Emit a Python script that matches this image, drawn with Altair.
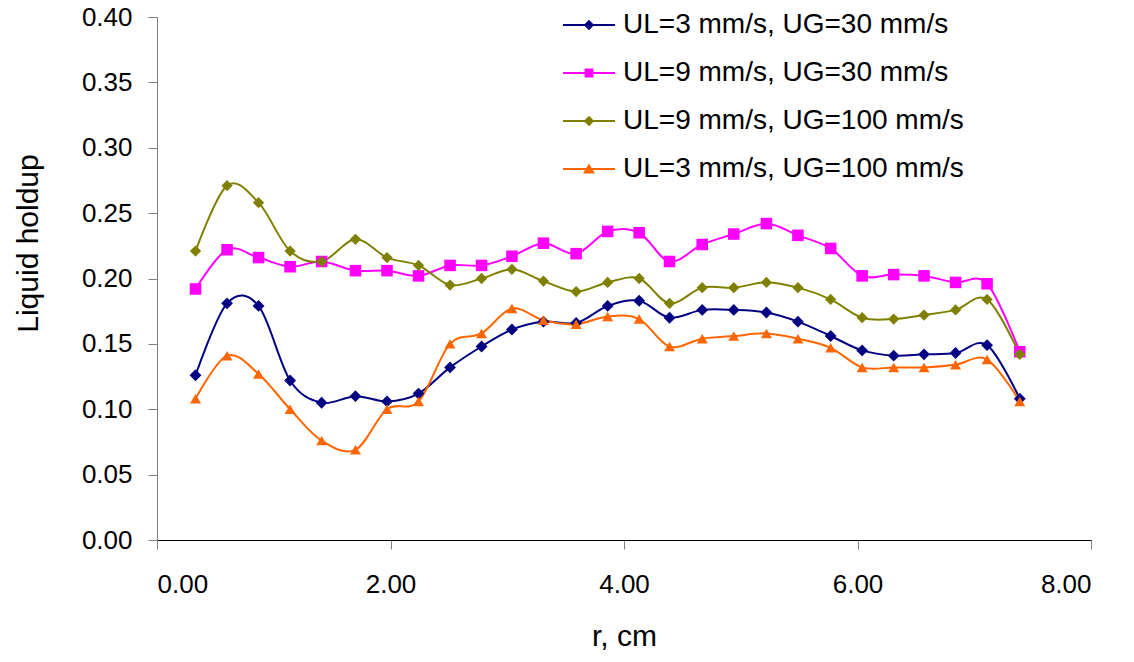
import altair as alt
import pandas as pd

r_cm = [0.33, 0.60, 0.87, 1.14, 1.41, 1.70, 1.97, 2.24, 2.51, 2.78, 3.04, 3.31, 3.59,
        3.86, 4.13, 4.39, 4.67, 4.94, 5.22, 5.49, 5.77, 6.04, 6.31, 6.57, 6.84, 7.11, 7.39]

ul3_ug30 = [0.126, 0.181, 0.179, 0.122, 0.105, 0.110, 0.106, 0.112, 0.132, 0.148, 0.161, 0.167, 0.166,
            0.179, 0.183, 0.170, 0.176, 0.176, 0.174, 0.167, 0.156, 0.145, 0.141, 0.142, 0.143, 0.149, 0.108]
ul9_ug30 = [0.192, 0.222, 0.216, 0.209, 0.213, 0.206, 0.206, 0.202, 0.210, 0.210, 0.217, 0.227, 0.219,
            0.236, 0.235, 0.213, 0.226, 0.234, 0.242, 0.233, 0.223, 0.202, 0.203, 0.202, 0.197, 0.196, 0.144]
ul9_ug100 = [0.221, 0.271, 0.258, 0.221, 0.213, 0.230, 0.216, 0.210, 0.195, 0.200, 0.207, 0.198, 0.190,
             0.197, 0.200, 0.181, 0.193, 0.193, 0.197, 0.193, 0.184, 0.170, 0.169, 0.172, 0.176, 0.184, 0.142]
ul3_ug100 = [0.108, 0.141, 0.127, 0.100, 0.076, 0.069, 0.100, 0.106, 0.150, 0.158, 0.177, 0.168, 0.165,
             0.171, 0.169, 0.148, 0.154, 0.156, 0.158, 0.154, 0.147, 0.132, 0.132, 0.132, 0.134, 0.138, 0.106]

series_names = ["UL=3 mm/s, UG=30 mm/s", "UL=9 mm/s, UG=30 mm/s",
                "UL=9 mm/s, UG=100 mm/s", "UL=3 mm/s, UG=100 mm/s"]
series_values = [ul3_ug30, ul9_ug30, ul9_ug100, ul3_ug100]
series_colors = ["#000080", "#FF00FF", "#808000", "#FF6600"]
marker_shapes = ["diamond", "square", "diamond", "triangle-up"]
marker_sizes = [140, 120, 140, 170]

x_ticks = [0, 2, 4, 6, 8]
y_ticks = [0.0, 0.05, 0.10, 0.15, 0.20, 0.25, 0.30, 0.35, 0.40]

rows = []
for name, vals in zip(series_names, series_values):
    for x, v in zip(r_cm, vals):
        rows.append({"r": x, "holdup": v, "series": name})
df = pd.DataFrame(rows)

FONT = "Liberation Sans"

# legend symbols: a short line with the marker on it
LINE = "M-1.3,-0.05L1.3,-0.05L1.3,0.05L-1.3,0.05Z"
legend_paths = [
    LINE + "M0,-0.26L0.26,0L0,0.26L-0.26,0Z",
    LINE + "M-0.22,-0.22L0.22,-0.22L0.22,0.22L-0.22,0.22Z",
    LINE + "M0,-0.26L0.26,0L0,0.26L-0.26,0Z",
    LINE + "M0,-0.28L0.3,0.22L-0.3,0.22Z",
]

x_enc = alt.X("r:Q", scale=alt.Scale(domain=[0, 8], nice=False, zero=False),
              axis=alt.Axis(values=x_ticks, format=".2f", title="r, cm", grid=False,
                            domainColor="#000000", tickColor="#808080", tickSize=9,
                            labelFontSize=26, labelFont=FONT, labelColor="#000000",
                            labelPadding=22, titleFontSize=30, titleFont=FONT,
                            titleFontWeight="normal", titleColor="#000000",
                            titleY=96, titleBaseline="middle"))
y_enc = alt.Y("holdup:Q", scale=alt.Scale(domain=[0, 0.4], nice=False),
              axis=alt.Axis(values=y_ticks, format=".2f", title="Liquid holdup", grid=False,
                            domainColor="#808080", tickColor="#808080", tickSize=9,
                            labelFontSize=26, labelFont=FONT, labelColor="#000000",
                            labelPadding=16, titleFontSize=30, titleFont=FONT,
                            titleFontWeight="normal", titleColor="#000000",
                            titleX=-129, titleY=226, titleBaseline="middle"))

color_scale = alt.Scale(domain=series_names, range=series_colors)

leg = alt.Legend(title=None, orient="none", legendX=412, legendY=-12, padding=0,
                 symbolSize=1600, labelFontSize=28, labelFont=FONT, labelColor="#000000",
                 labelOffset=14, rowPadding=14, symbolStrokeWidth=0, labelLimit=600)

lines = alt.Chart(df).mark_line(interpolate="cardinal", strokeWidth=2).encode(
    x=x_enc, y=y_enc,
    color=alt.Color("series:N", scale=color_scale, legend=None),
    detail="series:N",
)

points = alt.Chart(df).mark_point(filled=True, opacity=1).encode(
    x=x_enc, y=y_enc,
    color=alt.Color("series:N", scale=color_scale, legend=None),
    shape=alt.Shape("series:N", scale=alt.Scale(domain=series_names, range=marker_shapes), legend=None),
    size=alt.Size("series:N", scale=alt.Scale(domain=series_names, range=marker_sizes), legend=None),
)

# legend-only layer: no rows drawn, entries come from the explicit scale domains
legend_layer = alt.Chart(df).transform_filter("datum.r < 0").mark_point(filled=True, opacity=1).encode(
    x=x_enc, y=y_enc,
    color=alt.Color("series:N", scale=color_scale, legend=leg),
    shape=alt.Shape("series:N", scale=alt.Scale(domain=series_names, range=legend_paths), legend=leg),
)

chart = alt.layer(lines, points, legend_layer).resolve_scale(
    color="independent", shape="independent", size="independent"
).properties(
    width=934, height=523,
    padding={"left": 149, "top": 9, "right": 35, "bottom": 114},
    autosize=alt.AutoSizeParams(type="none"),
    background="white",
).configure_view(stroke=None)

chart.save("out.html", embed_options={"renderer": "svg", "actions": False})
